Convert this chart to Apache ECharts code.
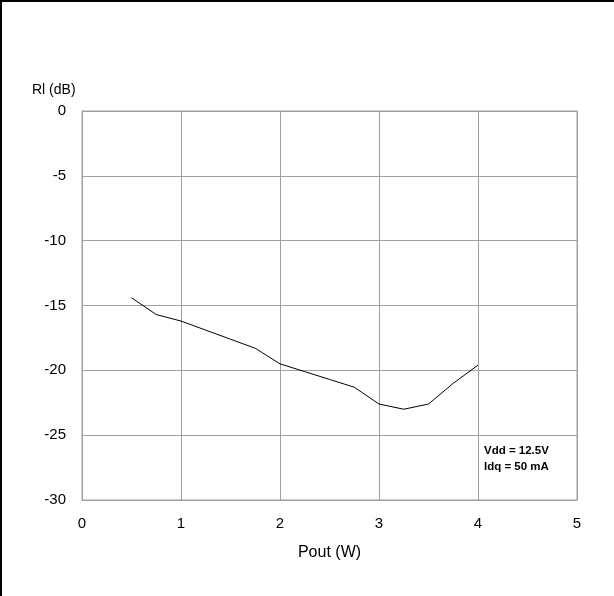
<!DOCTYPE html>
<html><head><meta charset="utf-8">
<script src="https://cdn.jsdelivr.net/npm/echarts@6/dist/echarts.min.js"></script>
<style>html,body{margin:0;padding:0;background:#fff}#c{width:614px;height:596px}</style>
</head><body><div id="c"></div>
<script>
const pout = [0.5, 0.75, 1.0, 1.25, 1.5, 1.75, 2.0, 2.25, 2.5, 2.75, 3.0, 3.25, 3.5, 3.75, 4.0];
const rl = [-14.4, -15.7, -16.2, -16.9, -17.6, -18.3, -19.5, -20.1, -20.7, -21.3, -22.6, -23.0, -22.6, -21.0, -19.6];
const xTitle = 'Pout (W)';
const yTitle = 'Rl (dB)';
const noteLines = ['Vdd = 12.5V', 'Idq = 50 mA'];

const chart = echarts.init(document.getElementById('c'), null, {renderer: 'canvas'});
const font = 'Liberation Sans, Arial, sans-serif';
chart.setOption({
  animation: false,
  backgroundColor: '#fff',
  grid: {left: 82, right: 37, top: 111, bottom: 96, show: true, borderColor: '#a0a0a0', borderWidth: 1},
  xAxis: {
    type: 'value', min: 0, max: 5, interval: 1,
    name: xTitle, nameLocation: 'middle', nameGap: 45,
    nameTextStyle: {fontFamily: font, fontSize: 16, color: '#000'},
    axisLine: {show: true, onZero: false, lineStyle: {color: '#a0a0a0'}},
    axisTick: {show: false},
    axisLabel: {fontFamily: font, fontSize: 15, color: '#000', margin: 16},
    splitLine: {show: true, lineStyle: {color: '#a0a0a0', width: 1}}
  },
  yAxis: {
    type: 'value', min: -30, max: 0, interval: 5,
    axisLine: {show: true, lineStyle: {color: '#a0a0a0'}},
    axisTick: {show: false},
    axisLabel: {fontFamily: font, fontSize: 15, color: '#000', margin: 16, padding: [4, 0, 0, 0]},
    splitLine: {show: true, lineStyle: {color: '#a0a0a0', width: 1}}
  },
  graphic: [
    {type: 'line', shape: {x1: 1, y1: 0, x2: 1, y2: 596}, style: {stroke: '#000', lineWidth: 2}},
    {type: 'line', shape: {x1: 0, y1: 1, x2: 614, y2: 1}, style: {stroke: '#000', lineWidth: 2}},
    {type: 'text', left: 32, top: 83, style: {text: yTitle, font: '14px ' + font, fill: '#000'}},
    {type: 'text', left: 484, top: 443, style: {text: noteLines.join('\n'), font: 'bold 11.5px ' + font, fill: '#000', lineHeight: 16}}
  ],
  series: [{
    type: 'line',
    data: pout.map((x, i) => [x, rl[i]]),
    showSymbol: false,
    lineStyle: {color: '#000', width: 1},
    silent: true
  }]
});
</script>
</body></html>
